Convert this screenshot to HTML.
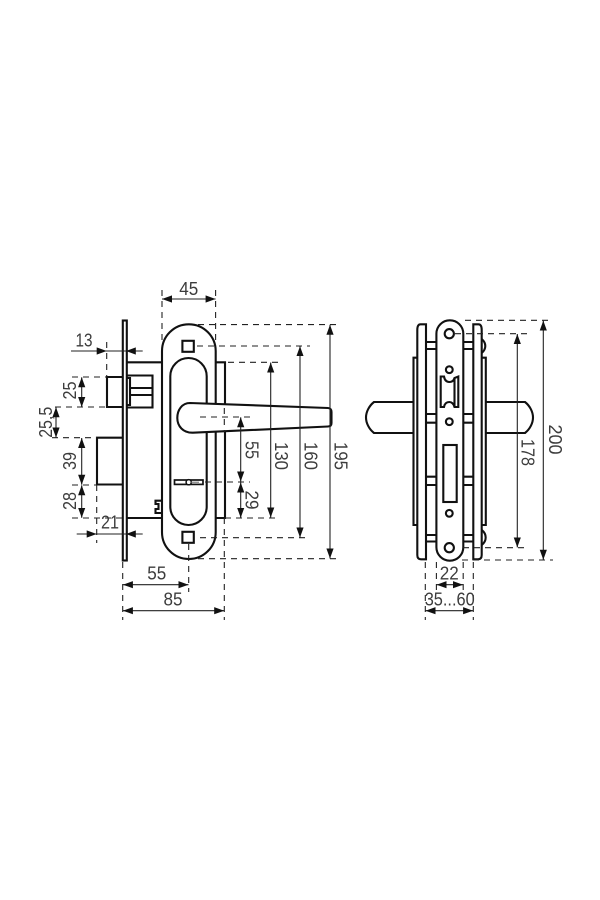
<!DOCTYPE html>
<html><head><meta charset="utf-8"><style>
html,body{margin:0;padding:0;background:#fff}
svg{display:block}
text{font-family:"Liberation Sans",sans-serif;font-size:18.5px;fill:#3c3c3c;text-anchor:middle}
.o{fill:none;stroke:#111;stroke-width:2.1}
.w{fill:#fff;stroke:#111;stroke-width:2.1}
.d{fill:none;stroke:#222;stroke-width:1.1;stroke-dasharray:6 5}
.a{fill:none;stroke:#222;stroke-width:1.1;marker-start:url(#m);marker-end:url(#m)}
.l{fill:none;stroke:#222;stroke-width:1.1}
.e{fill:none;stroke:none;marker-end:url(#m)}
</style></head><body>
<svg width="600" height="900" viewBox="0 0 600 900" xmlns="http://www.w3.org/2000/svg">
<defs><marker id="m" markerUnits="userSpaceOnUse" markerWidth="11" markerHeight="8" refX="10" refY="4" orient="auto-start-reverse"><path d="M0,0.4L10,4L0,7.6Z" fill="#111"/></marker></defs>

<!-- left view: lock body -->
<rect class="o" x="122.8" y="320.5" width="4" height="240"/>
<path class="o" d="M127,362.3H162M127,518H162"/>
<path class="o" d="M122.5,377H107V407H122.5"/>
<path class="o" d="M127,378H130V405H127"/>
<path class="o" d="M127,375.5H152.5V407.5H127M130,388H152.5M130,395H152.5"/>
<path class="o" d="M122.5,437.7H97V484.5H122.5"/>
<path class="o" d="M162,500.7H155.5V504H158.5V509H155.5V513H162" />

<!-- rosette -->
<path class="o" d="M215.7,362.3H225V518H215.7"/>
<rect class="w" x="162" y="324.3" width="53.7" height="234.7" rx="26.8" ry="26.8"/>
<rect class="o" x="170.3" y="358" width="36.4" height="167" rx="18.2" ry="18.2"/>
<rect class="o" x="182.4" y="340.8" width="11.4" height="11"/>
<rect class="o" x="182.4" y="531.8" width="11.4" height="11"/>
<path class="w" d="M190,403L328,408Q331.5,408.3 331.5,412V423Q331.5,426.3 328,426.5L193,432.7C183,433 177.3,426 177.3,418C177.3,410 182,403 190,403Z"/>
<rect x="174.5" y="480" width="28.5" height="4.4" fill="#fff" stroke="#111" stroke-width="1.7"/>
<circle cx="188.7" cy="482.2" r="2.6" fill="#fff" stroke="#111" stroke-width="1.5"/>
<path d="M191,482.2H199" stroke="#666" stroke-width="1"/>

<!-- left view dims: dashed -->
<path class="d" d="M162,290V340"/>
<path class="d" d="M215.6,290V345"/>
<path class="d" d="M198,324.6H340M197,346H310M228,362.3H280M225,518H280M200,537.7H310M198,558.7H340"/>
<path class="d" d="M200,417H250M205,482H250"/>
<path class="d" d="M224.3,408V432"/>
<path class="d" d="M224.3,518V620"/>
<path class="d" d="M106.7,342V377"/>
<path class="d" d="M72,377H107M55,407H107M52,437.7H97M72,485H97M72,518H122"/>
<path class="d" d="M96.7,485V543"/>
<path class="d" d="M122.7,562V620"/>
<path class="d" d="M188.7,544V592"/>

<!-- left view dims: arrows -->
<path class="a" d="M162,299H215.6"/>
<path class="a" d="M270.7,362.5V517.5"/>
<path class="a" d="M300,346.2V537.5"/>
<path class="a" d="M330,324.8V558.5"/>
<path class="a" d="M240.7,417.3V481.5"/>
<path class="a" d="M240.7,482.5V517.8"/>
<path class="a" d="M81.7,377.3V407"/>
<path class="a" d="M56,407.3V437.5"/>
<path class="a" d="M81.7,438V484.7"/>
<path class="a" d="M81.7,485.3V517.8"/>
<path class="l" d="M71,351H142.7M76.7,534H142.7"/>
<path class="e" d="M71,351H106.7"/>
<path class="e" d="M142.7,351H125.8"/>
<path class="e" d="M76.7,534H96.7"/>
<path class="e" d="M142.7,534H125.8"/>
<path class="a" d="M122.9,584.7H188.5"/>
<path class="a" d="M122.9,610.7H224.2"/>

<!-- left view labels -->
<text x="188.7" y="295" textLength="19" lengthAdjust="spacingAndGlyphs">45</text>
<text x="84" y="346.5" textLength="17" lengthAdjust="spacingAndGlyphs">13</text>
<text x="110" y="528.5" textLength="18" lengthAdjust="spacingAndGlyphs">21</text>
<text x="156.7" y="579.5" textLength="19" lengthAdjust="spacingAndGlyphs">55</text>
<text x="173" y="605.7" textLength="19" lengthAdjust="spacingAndGlyphs">85</text>
<text transform="translate(76,390.5) rotate(-90)" textLength="18" lengthAdjust="spacingAndGlyphs">25</text>
<text transform="translate(52,422.3) rotate(-90)" textLength="31" lengthAdjust="spacingAndGlyphs">25,5</text>
<text transform="translate(76,461) rotate(-90)" textLength="18" lengthAdjust="spacingAndGlyphs">39</text>
<text transform="translate(76,501) rotate(-90)" textLength="18" lengthAdjust="spacingAndGlyphs">28</text>
<text transform="translate(245.7,450) rotate(90)" textLength="18" lengthAdjust="spacingAndGlyphs">55</text>
<text transform="translate(245.7,500) rotate(90)" textLength="19" lengthAdjust="spacingAndGlyphs">29</text>
<text transform="translate(275,456) rotate(90)" textLength="28" lengthAdjust="spacingAndGlyphs">130</text>
<text transform="translate(304.5,456) rotate(90)" textLength="28" lengthAdjust="spacingAndGlyphs">160</text>
<text transform="translate(334.5,456) rotate(90)" textLength="28" lengthAdjust="spacingAndGlyphs">195</text>

<!-- right view: handles -->
<path class="o" d="M413.3,402H374C369,406 366,412 366,417.5C366,423 369,429 374,433H413.3"/>
<path class="o" d="M486,402H525C530,406 533,412 533,417.5C533,423 530,429 525,433H486"/>
<!-- outer plates -->
<path class="o" d="M417.3,357.7H413.5V525H417.3"/>
<path class="o" d="M481.7,357.7H485.8V525H481.7"/>
<!-- screw heads -->
<path class="o" d="M481.7,339C486.5,343 486.5,349 481.7,353"/>
<path class="o" d="M481.7,530C487,534 487,541 481.7,545"/>
<!-- rosette side plates -->
<path class="o" d="M426,324.3H420.5Q417.3,324.3 417.3,330V555Q417.3,559.3 421,559.3H426Z"/>
<path class="o" d="M473.3,324.3H478.5Q481.7,324.3 481.7,330V555Q481.7,559.3 478,559.3H473.3Z"/>
<!-- connectors -->
<path class="o" d="M426,342H436.5M426,349H436.5M426,414H436.5M426,422.7H436.5M426,476.7H436.5M426,485H436.5M426,535H436.5M426,541.5H436.5"/>
<path class="o" d="M463,342H473.3M463,349H473.3M463,414H473.3M463,422.7H473.3M463,476.7H473.3M463,485H473.3M463,535H473.3M463,541.5H473.3"/>
<!-- central plate -->
<rect class="w" x="436.4" y="320.3" width="26.9" height="240.4" rx="13.4" ry="13.4"/>
<circle class="o" cx="449.3" cy="333.7" r="4.6"/>
<circle class="o" cx="449.3" cy="547.7" r="4.6"/>
<circle class="o" cx="449.3" cy="369.7" r="3.4"/>
<circle class="o" cx="449.3" cy="421.7" r="3.4"/>
<circle class="o" cx="449.3" cy="513.3" r="3.4"/>
<rect class="o" x="443.3" y="445" width="13.4" height="57"/>
<path class="o" d="M440.7,376.5H444Q445,382 449.3,382Q453.5,382 454.5,378L458.3,376.5V407H454.5Q453,402 449.3,402Q445,402 444,407H440.7Z"/>
<path class="o" d="M454.5,378V407"/>

<!-- right view dims -->
<path class="d" d="M455,333.7H527M465,320.3H553M463,547.7H527M462,560H553"/>
<path class="d" d="M425.3,562V620M473.3,562V620M436.4,562V590M463.2,562V590"/>
<path class="a" d="M517.3,334V547.4"/>
<path class="a" d="M543.3,320.6V559.7"/>
<path class="a" d="M436.6,584.7H463"/>
<path class="a" d="M425.5,610.7H473.1"/>
<text x="449.3" y="579.5" textLength="19" lengthAdjust="spacingAndGlyphs">22</text>
<text x="449.7" y="605.3" textLength="50" lengthAdjust="spacingAndGlyphs">35...60</text>
<text transform="translate(521.7,452.5) rotate(90)" textLength="27" lengthAdjust="spacingAndGlyphs">178</text>
<text transform="translate(549,439.5) rotate(90)" textLength="30" lengthAdjust="spacingAndGlyphs">200</text>
</svg>
</body></html>
